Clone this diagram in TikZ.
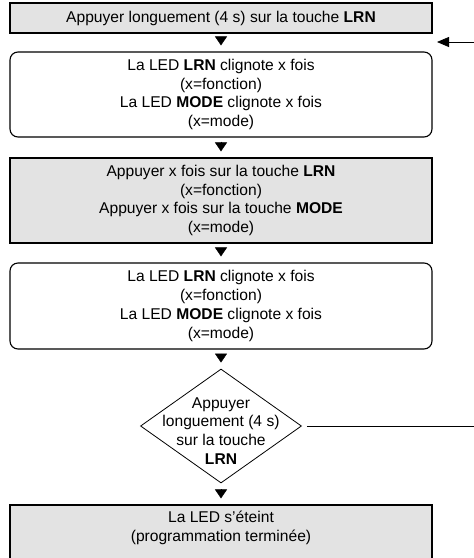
\documentclass[tikz,border=0pt]{standalone}
\usepackage{fontspec}
\setmainfont{Liberation Sans}
\usetikzlibrary{shapes.geometric,arrows.meta}

\tikzset{
  boite/.style={draw, line width=1.1pt, minimum width=422pt, inner sep=0pt,
    align=center, font=\fontsize{15.6}{18.8}\selectfont},
  action/.style={boite, fill=black!11},
  affichage/.style={boite, rounded corners=8pt},
  diamant/.style={draw, diamond, line width=0.8pt, minimum width=161pt,
    minimum height=114pt, inner sep=0pt},
  fleche/.style={-{Triangle[width=12pt,length=9pt]}, shorten <=4pt, shorten >=6pt},
  retour/.style={-{Triangle[width=10pt,length=12pt]}, line width=0.8pt, shorten <=5pt},
}

\begin{document}
\begin{tikzpicture}[x=1pt,y=-1pt]
                \useasboundingbox (0,0) rectangle (474,558);

                \node [action, minimum height=30pt] (appui) at (221,18) {Appuyer longuement (4 s) sur la touche \textbf{LRN}};
                \node [affichage, minimum height=85pt] (clign) at (221,94.5) {La LED \textbf{LRN} clignote x fois\\(x=fonction)\\La LED \textbf{MODE} clignote x fois\\(x=mode)};
                \node [action, minimum height=85pt] (saisie) at (221,200.5) {Appuyer x fois sur la touche \textbf{LRN}\\(x=fonction)\\Appuyer x fois sur la touche \textbf{MODE}\\(x=mode)};
                \node [affichage, minimum height=86pt] (ctrl) at (221,306) {La LED \textbf{LRN} clignote x fois\\(x=fonction)\\La LED \textbf{MODE} clignote x fois\\(x=mode)};
                \node [diamant, label={[align=center, yshift=-5pt, font=\fontsize{15.6}{18.8}\selectfont]center:Appuyer\\longuement (4 s)\\sur la touche\\\textbf{LRN}}] (test) at (221,426) {};
                \node [action, minimum height=60pt, label={[align=center, yshift=7pt, font=\fontsize{15.6}{18.8}\selectfont]center:La LED s’éteint\\(programmation terminée)}] (fin) at (221,535) {};

                \coordinate (retour) at (437,42);
                \coordinate (coin) at (480,0);

                \draw [fleche] (appui) -- (clign);
                \draw [fleche] (clign) -- (saisie);
                \draw [fleche] (saisie) -- (ctrl);
                \draw [fleche] (ctrl) -- (test);
                \draw [fleche, shorten <=6pt] (test) -- (fin);
                \draw [retour] (test.east) -- (test.east -| coin) |- (retour);
            \end{tikzpicture}
\end{document}
